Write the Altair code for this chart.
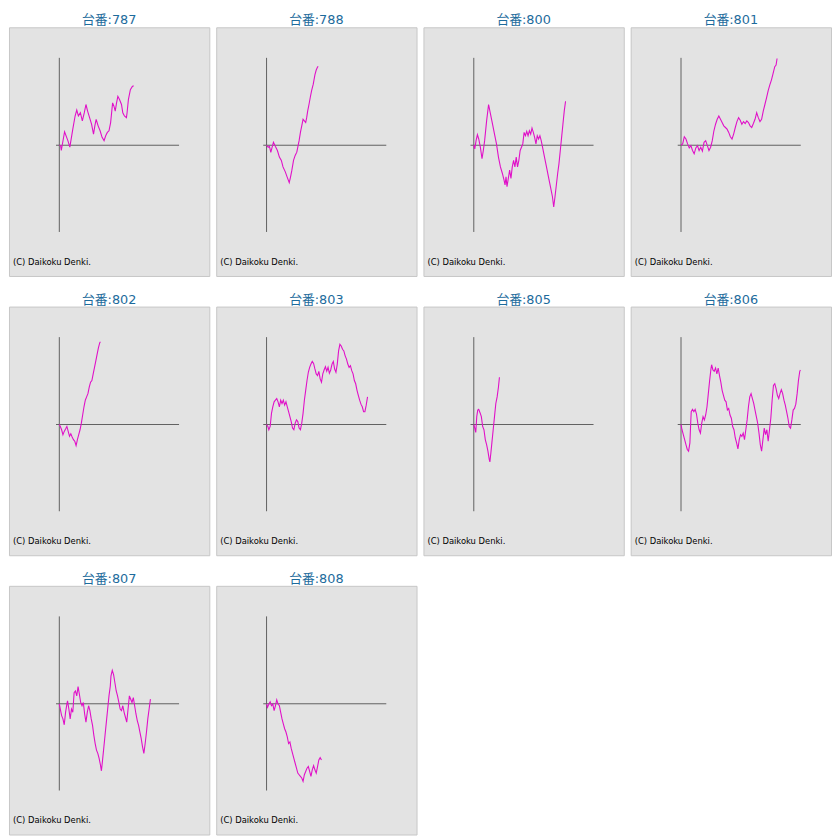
import altair as alt
import pandas as pd

MACHINES = ["787", "788", "800", "801", "802", "803", "805", "806", "807", "808"]
COPYRIGHT = "(C) Daikoku Denki."

x_787 = [0, 4, 6, 16, 26, 32, 41, 48, 53, 58, 64, 70, 76, 81, 86, 92, 98, 104, 108, 112, 118, 124, 130, 136, 141, 146, 151, 156, 162, 166, 170, 174, 178, 183, 189, 193, 198, 204, 206, 210, 216, 222, 226]
y_787 = [0, -1, -16, 41, 14, -6, 49, 89, 107, 89, 99, 74, 99, 124, 104, 84, 64, 34, 59, 79, 59, 44, 24, 14, 29, 39, 44, 69, 129, 119, 104, 129, 149, 139, 124, 99, 89, 84, 99, 139, 169, 179, 181]

x_788 = [0, 5, 9, 13, 17, 21, 27, 33, 39, 45, 50, 57, 63, 69, 73, 77, 82, 87, 92, 95, 99, 103, 107, 111, 115, 119, 122, 125, 129, 133, 137, 142, 147, 151, 155, 157]
y_788 = [0, -6, -4, -22, -6, 9, -4, -16, -36, -46, -66, -81, -98, -114, -96, -76, -46, -31, -21, -6, 14, 39, 59, 79, 74, 69, 84, 104, 124, 146, 166, 186, 214, 229, 238, 240]

x_800 = [0, 3, 7, 11, 15, 20, 25, 29, 33, 39, 45, 51, 57, 63, 69, 75, 81, 87, 92, 95, 98, 101, 105, 109, 113, 117, 121, 125, 129, 133, 137, 141, 145, 149, 153, 157, 161, 165, 169, 173, 177, 181, 185, 189, 193, 197, 201, 205, 209, 215, 221, 227, 233, 239, 243, 247, 251, 255, 259, 263, 267, 271, 275, 279]
y_800 = [0, -11, 14, 32, 19, -6, -41, -16, 14, 74, 124, 94, 64, 34, 4, -36, -66, -86, -106, -121, -96, -126, -101, -76, -101, -66, -46, -66, -36, -66, -46, -16, -6, 4, 39, 29, 42, 29, 44, 34, 52, 39, 24, 4, 29, 19, 29, 14, -6, -36, -66, -96, -126, -156, -188, -156, -121, -86, -56, -16, 24, 64, 104, 134]

x_801 = [0, 5, 10, 15, 20, 25, 30, 35, 40, 45, 50, 55, 60, 65, 70, 75, 80, 85, 90, 95, 100, 105, 110, 115, 120, 125, 130, 135, 140, 145, 150, 155, 160, 165, 170, 175, 180, 185, 190, 195, 200, 205, 210, 215, 220, 225, 230, 235, 240, 245, 250, 255, 260, 265, 270, 275, 280, 285, 289, 292]
y_801 = [0, 4, 26, 19, 4, -8, -1, -16, -26, -8, -1, -16, -6, -18, 9, 14, -1, -16, -6, 14, 44, 64, 79, 89, 79, 69, 59, 54, 49, 39, 26, 19, 34, 54, 72, 84, 76, 64, 72, 66, 74, 69, 59, 54, 66, 79, 99, 84, 72, 79, 104, 124, 144, 166, 184, 199, 219, 239, 244, 264]

x_802 = [0, 3, 7, 11, 15, 19, 23, 27, 31, 35, 39, 43, 47, 51, 55, 59, 63, 67, 71, 75, 79, 83, 87, 91, 95, 99, 103, 107, 111, 115, 119, 123, 125]
y_802 = [0, -6, -16, -31, -21, -14, -6, -21, -36, -28, -38, -46, -51, -64, -46, -31, -16, 4, 29, 54, 74, 84, 94, 114, 129, 134, 154, 174, 194, 214, 234, 249, 252]

x_803 = [0, 4, 7, 11, 15, 19, 23, 27, 31, 35, 39, 43, 47, 51, 55, 59, 63, 67, 71, 75, 79, 83, 87, 91, 95, 99, 103, 107, 111, 115, 119, 123, 127, 131, 135, 139, 143, 147, 151, 155, 159, 163, 167, 171, 175, 179, 183, 187, 191, 195, 199, 203, 207, 211, 215, 219, 223, 227, 231, 235, 239, 243, 247, 251, 255, 259, 263, 267, 271, 275, 279, 283, 287, 291, 295, 299, 303, 307]
y_803 = [0, -6, -16, -6, 34, 54, 69, 74, 79, 69, 54, 74, 64, 74, 59, 69, 54, 39, 24, 9, -11, -16, 4, 14, 9, -11, -16, 4, 34, 74, 104, 134, 159, 174, 184, 192, 186, 169, 154, 149, 162, 139, 129, 154, 166, 176, 162, 174, 156, 166, 184, 192, 169, 159, 184, 224, 244, 239, 229, 224, 209, 199, 184, 174, 179, 164, 154, 134, 124, 104, 89, 74, 62, 54, 39, 39, 59, 84]

x_805 = [0, 3, 6, 9, 12, 15, 19, 23, 27, 31, 35, 39, 43, 47, 49, 52, 55, 59, 63, 67, 71, 75, 78]
y_805 = [0, -11, -24, 24, 44, 46, 36, 24, -6, -16, -46, -61, -81, -106, -114, -86, -56, -16, 24, 64, 84, 114, 144]

x_806 = [0, 3, 7, 11, 15, 19, 23, 27, 29, 31, 35, 39, 43, 47, 51, 55, 59, 63, 67, 71, 75, 79, 83, 87, 91, 93, 97, 101, 105, 109, 113, 117, 121, 125, 129, 133, 137, 141, 145, 149, 153, 157, 161, 165, 169, 173, 177, 181, 185, 189, 193, 197, 201, 205, 209, 213, 217, 221, 225, 229, 233, 237, 241, 245, 249, 253, 257, 261, 265, 269, 273, 277, 281, 285, 289, 293, 297, 301, 305, 309, 313, 317, 321, 325, 329, 333, 337, 341, 345, 349, 353, 357, 361, 363]
y_806 = [0, -16, -31, -46, -61, -76, -81, -56, -6, 39, 46, 39, 46, 32, 4, -16, -26, 4, 24, 14, 29, 54, 94, 134, 169, 182, 166, 162, 172, 154, 172, 149, 129, 104, 89, 74, 69, 44, 49, 29, 19, -6, -16, -41, -56, -74, -46, -31, -36, -26, -46, -16, 14, 54, 84, 94, 79, 64, 44, 24, 4, -26, -61, -81, -46, -11, -31, -16, -51, -16, 19, 74, 119, 124, 109, 89, 79, 94, 106, 94, 74, 59, 39, 19, -6, -11, 14, 44, 49, 62, 94, 134, 162, 166]

x_807 = [0, 3, 7, 11, 15, 19, 23, 25, 29, 33, 37, 41, 45, 49, 53, 57, 61, 65, 69, 73, 77, 81, 85, 89, 93, 97, 101, 105, 109, 113, 117, 121, 125, 128, 131, 135, 139, 143, 147, 151, 155, 157, 161, 165, 169, 173, 177, 181, 185, 189, 193, 197, 201, 205, 209, 213, 217, 221, 225, 229, 233, 237, 241, 245, 249, 253, 257, 261, 265, 269, 273, 277]
y_807 = [0, -16, -36, -46, -64, -26, -1, 9, -16, -46, -16, -26, 34, 39, 24, 52, 29, 4, -6, 4, -31, -56, -26, -6, -21, -46, -66, -96, -121, -141, -151, -166, -186, -204, -176, -136, -96, -56, -16, 24, 54, 84, 102, 89, 64, 39, 24, 4, -16, -21, -6, -26, -41, -56, -16, 24, 14, 4, 19, -6, -31, -51, -66, -86, -106, -131, -151, -121, -86, -46, -16, 14]

x_808 = [0, 3, 7, 11, 15, 19, 23, 27, 31, 35, 39, 43, 47, 51, 55, 59, 63, 67, 71, 75, 79, 83, 87, 91, 95, 99, 103, 107, 111, 115, 119, 123, 127, 131, 135, 139, 143, 147, 151, 155, 159, 163, 167]
y_808 = [0, -11, -1, 6, -6, -1, -21, -6, 12, -1, -6, -26, -46, -61, -76, -86, -101, -121, -116, -136, -151, -166, -181, -196, -211, -216, -221, -226, -236, -216, -206, -196, -191, -206, -221, -201, -188, -201, -211, -191, -171, -164, -171]

SERIES = {
    "787": (x_787, y_787), "788": (x_788, y_788), "800": (x_800, y_800),
    "801": (x_801, y_801), "802": (x_802, y_802), "803": (x_803, y_803),
    "805": (x_805, y_805), "806": (x_806, y_806), "807": (x_807, y_807),
    "808": (x_808, y_808),
}

# axis cross extents (data units)
AX_X_START, AX_X_END = -10, 364
AX_Y_START, AX_Y_END = -264, 266
X_DOMAIN = [-153, 456]
Y_DOMAIN = [-398, 359]
TEXT_X, TEXT_Y = -141, -355

xsc = alt.Scale(domain=X_DOMAIN, nice=False, zero=False)
ysc = alt.Scale(domain=Y_DOMAIN, nice=False, zero=False)

axes_df = pd.DataFrame({
    "x": [0, AX_X_START], "x2": [0, AX_X_END],
    "y": [AX_Y_START, 0], "y2": [AX_Y_END, 0],
})
text_df = pd.DataFrame({"t": [COPYRIGHT], "x": [TEXT_X], "y": [TEXT_Y]})


def panel(m):
    xs, ys = SERIES[m]
    df = pd.DataFrame({"game": xs, "diff": ys})
    rules = alt.Chart(axes_df).mark_rule(color="#5f5f5f", strokeWidth=1).encode(
        x=alt.X("x:Q", scale=xsc, axis=None),
        x2="x2:Q",
        y=alt.Y("y:Q", scale=ysc, axis=None),
        y2="y2:Q",
    )
    line = alt.Chart(df).mark_line(color="#e010c8", strokeWidth=1.1).encode(
        x=alt.X("game:Q", scale=xsc, axis=None),
        y=alt.Y("diff:Q", scale=ysc, axis=None),
        order="game:Q",
    )
    text = alt.Chart(text_df).mark_text(
        align="left", baseline="middle", font="DejaVu Sans", fontSize=8.5, color="#000000"
    ).encode(
        x=alt.X("x:Q", scale=xsc, axis=None),
        y=alt.Y("y:Q", scale=ysc, axis=None),
        text="t:N",
    )
    return alt.layer(rules, line, text).properties(
        width=203, height=252,
        title=alt.TitleParams(
            text=f"台番:{m}", fontSize=13, color="#1d6b9c",
            font="DejaVu Sans, Noto Sans CJK JP", fontWeight="normal",
            anchor="middle", offset=0,
        ),
    )


chart = alt.concat(*[panel(m) for m in MACHINES], columns=4, spacing={"row": 16, "column": 5}).properties(
    padding=0, background="white"
).configure_view(
    stroke="#c6c6c6", strokeWidth=1, fill="#e3e3e3"
)

chart.save("out.html", embed_options={"renderer": "svg", "actions": False})
